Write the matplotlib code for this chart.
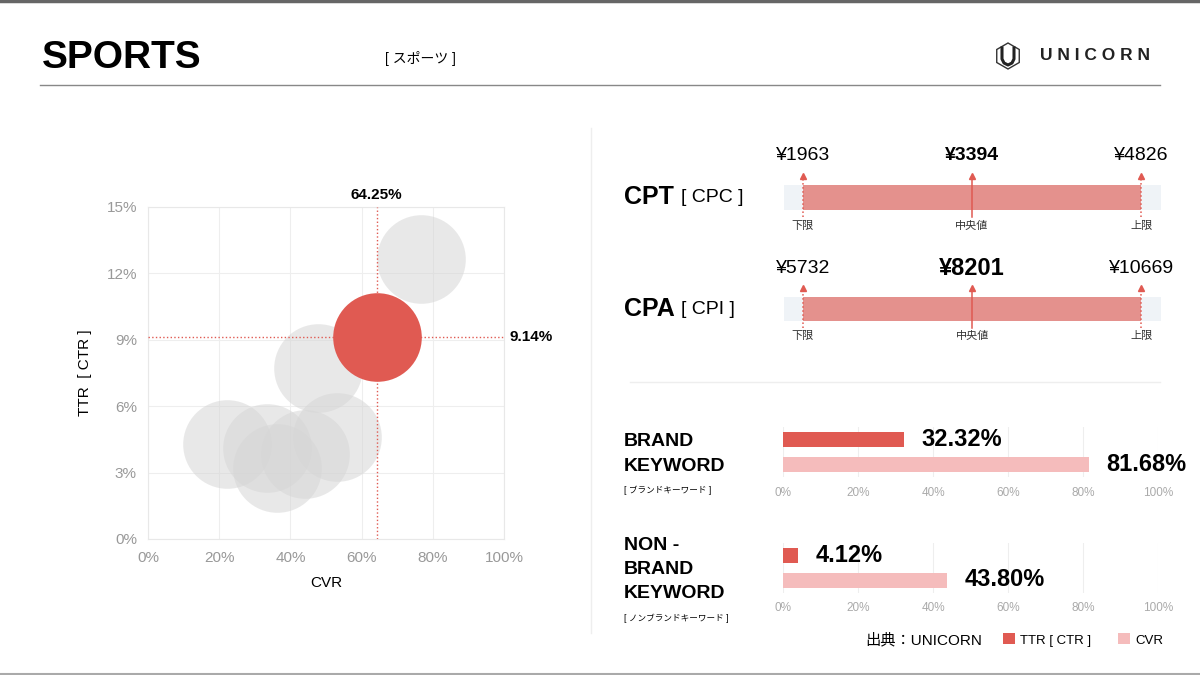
import matplotlib
matplotlib.use('Agg')
import matplotlib.pyplot as plt
from matplotlib.patches import RegularPolygon


plt.rcParams['font.family'] = ['Liberation Sans', 'Noto Sans CJK JP', 'DejaVu Sans']

RED = '#e05a52'
PINK = '#f5bcbc'
BAR = '#e4918d'

# bubble chart: CVR (x) vs TTR (y), one bubble per app, index 1 is SPORTS
cvr = [76.6, 64.25, 47.8, 53.1, 22.1, 33.5, 36.1, 44.0]
ttr = [12.64, 9.14, 7.73, 4.62, 4.27, 4.12, 3.2, 3.84]
highlight = 1

# cost ranges
cost_names = ['CPT', 'CPA']
cost_alt = ['[ CPC ]', '[ CPI ]']
cost_low = [1963, 5732]
cost_mid = [3394, 8201]
cost_high = [4826, 10669]
bound_labels = ['下限', '中央値', '上限']

# keyword bars
kw_names = ['BRAND\nKEYWORD', 'NON -\nBRAND\nKEYWORD']
kw_sub = ['[ ブランドキーワード ]', '[ ノンブランドキーワード ]']
kw_ttr = [32.32, 4.12]
kw_cvr = [81.68, 43.80]
pct_ticks = [0, 20, 40, 60, 80, 100]

W, H = 1200, 675
fig = plt.figure(figsize=(12, 6.75), dpi=100)


def px_axes(x0, y0, x1, y1):
    return fig.add_axes([x0 / W, 1 - y1 / H, (x1 - x0) / W, (y1 - y0) / H])


# overlay in pixel coords for header / rules / labels
ov = px_axes(0, 0, W, H)
ov.set_xlim(0, W)
ov.set_ylim(H, 0)
ov.axis('off')

ov.plot([0, W], [1, 1], color='#666666', lw=2.5)
ov.plot([0, W], [674, 674], color='#aaaaaa', lw=1.5)
ov.plot([40, 1160], [85, 85], color='#888888', lw=1)
ov.plot([591, 591], [128, 633], color='#eeeeee', lw=1)
ov.plot([630, 1160], [382, 382], color='#eeeeee', lw=1)

ov.text(42, 58, 'SPORTS', fontsize=28, weight='bold', va='center')
ov.text(385, 59, '[ スポーツ ]', fontsize=10, va='center')
ov.add_patch(RegularPolygon((1008, 56), 6, radius=13, fill=False,
                            ec='#333333', lw=1))
ov.plot([1002, 1002, 1004, 1008, 1012, 1014, 1014],
        [48, 59, 63, 65, 63, 59, 48], color='#222222', lw=2.2)
ov.text(1040, 56, 'U N I C O R N', fontsize=12.5, weight='bold', va='center',
        color='#222222')

# ---- bubble chart
ax = px_axes(148, 207, 504, 539)
ax.set_xlim(0, 100)
ax.set_ylim(0, 15)
ax.set_xticks(pct_ticks)
ax.set_xticklabels([f'{v}%' for v in pct_ticks])
ax.set_yticks(range(0, 16, 3))
ax.set_yticklabels([f'{v}%' for v in range(0, 16, 3)])
ax.tick_params(length=0, colors='#999999', labelsize=11)
ax.tick_params(axis='x', pad=9)
ax.tick_params(axis='y', pad=8)
ax.grid(color='#eeeeee', lw=0.8)
ax.set_axisbelow(True)
for s in ax.spines.values():
    s.set_color('#e8e8e8')

size = (2 * 44.3 * 0.72) ** 2
others = [i for i in range(len(cvr)) if i != highlight]
ax.scatter([cvr[i] for i in others], [ttr[i] for i in others], s=size,
           color='#d6d6d6', alpha=0.55, linewidths=0, zorder=2)
ax.scatter([cvr[highlight]], [ttr[highlight]], s=size, color=RED,
           linewidths=0, zorder=3)
ax.axvline(cvr[highlight], color=RED, ls=':', lw=1, zorder=4)
ax.axhline(ttr[highlight], color=RED, ls=':', lw=1, zorder=4)
ax.annotate(f'{cvr[highlight]:.2f}%', xy=(cvr[highlight], 15),
            xytext=(0, 8.6), textcoords='offset points', ha='center',
            va='center', fontsize=11, weight='bold')
ax.annotate(f'{ttr[highlight]:.2f}%', xy=(100, ttr[highlight]),
            xytext=(4.3, 0), textcoords='offset points', ha='left',
            va='center', fontsize=11, weight='bold', annotation_clip=False)
ax.text((85 - 148) / 356, 0.5, 'TTR  [ CTR ]', transform=ax.transAxes,
        rotation=90, ha='center', va='center', fontsize=11)
ax.text(0.5, -(583 - 539) / 332, 'CVR', transform=ax.transAxes,
        ha='center', va='center', fontsize=11)

# ---- cost ranges
cost_rows = [(185, 210), (297, 321)]
mid_size = [14, 17]
for i, (y0, y1) in enumerate(cost_rows):
    lo, mid, hi = cost_low[i], cost_mid[i], cost_high[i]
    span = hi - lo
    cax = px_axes(784, y0, 1161, y1)
    cax.set_facecolor('#eff3f7')
    for s in cax.spines.values():
        s.set_visible(False)
    cax.set_xticks([])
    cax.set_yticks([])
    cax.set_xlim(lo - 0.056 * span, hi + 0.058 * span)
    cax.set_ylim(0, 1)
    cax.barh(0.5, span, left=lo, height=1, color=BAR)
    for j, v in enumerate([lo, mid, hi]):
        ls = '-' if j == 1 else ':'
        cax.plot([v, v], [-0.3, 1.38], color=RED, ls=ls, lw=1.1, clip_on=False)
        cax.plot([v], [1.38], marker='^', ms=5, color=RED, clip_on=False)
        if j == 1:
            cax.text(v, 2.2, f'¥{v}', ha='center', va='center',
                     fontsize=mid_size[i], weight='bold')
        else:
            cax.text(v, 2.2, f'¥{v}', ha='center', va='center', fontsize=14)
        cax.text(v, -0.62, bound_labels[j], ha='center', va='center',
                 fontsize=8, color='#333333')
    yc = (y0 + y1) / 2
    ov.text(624, yc, cost_names[i], fontsize=18, weight='bold', va='center')
    ov.text(681, yc, cost_alt[i], fontsize=14, va='center')

# ---- keyword bars
kw_tops = [427, 542.5]
kw_name_y = [454, 569.5]
kw_sub_y = [490, 618]
for i, top in enumerate(kw_tops):
    kax = px_axes(783, top, 1158, top + 50)
    b1 = kax.barh([0], [kw_ttr[i]], height=0.6, color=RED, label='TTR [ CTR ]')
    b2 = kax.barh([1], [kw_cvr[i]], height=0.6, color=PINK, label='CVR')
    kax.set_xlim(0, 100)
    kax.set_ylim(1.5, -0.5)
    kax.set_xticks(pct_ticks)
    kax.set_xticklabels([f'{v}%' for v in pct_ticks])
    kax.set_yticks([])
    kax.tick_params(length=0, colors='#aaaaaa', labelsize=8.5, pad=7)
    kax.grid(axis='x', color='#eeeeee', lw=0.8)
    kax.set_axisbelow(True)
    kax.set_facecolor('none')
    for s in kax.spines.values():
        s.set_visible(False)
    for y, v in [(0, kw_ttr[i]), (1, kw_cvr[i])]:
        kax.annotate(f'{v:.2f}%', xy=(v, y), xytext=(12.2, 0),
                     textcoords='offset points', ha='left', va='center',
                     fontsize=17, weight='bold', annotation_clip=False)
    ov.text(624, kw_name_y[i], kw_names[i], fontsize=14, weight='bold',
            va='center', linespacing=1.55)
    ov.text(624, kw_sub_y[i], kw_sub[i], fontsize=6.2, va='center')

ov.text(865, 640, '出典：UNICORN', fontsize=11, va='center')
fig.legend(handles=[b1, b2], loc='center', ncol=2, frameon=False,
           bbox_to_anchor=(1083 / W, 1 - 640 / H), fontsize=9.5,
           handlelength=0.9, handleheight=0.9, handletextpad=0.4,
           columnspacing=2.0)

fig.savefig('out.png', dpi=100)
